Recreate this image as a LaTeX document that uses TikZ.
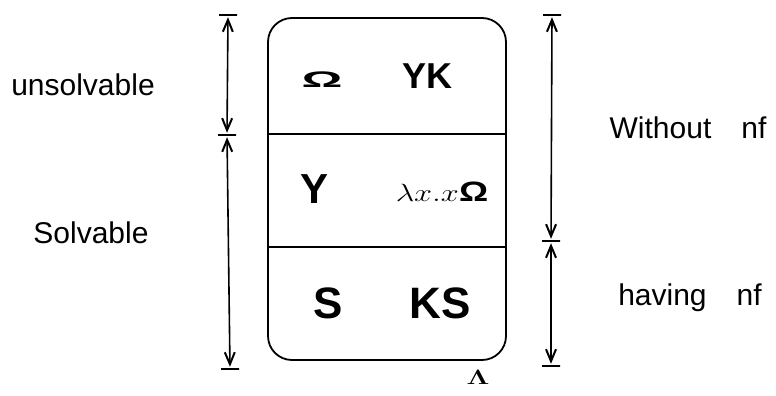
\documentclass[tikz,border=0pt]{standalone}
\usepackage{fontspec}
\setmainfont{Liberation Sans}
\usetikzlibrary{arrows.meta}
\begin{document}
\begin{tikzpicture}[x=1pt,y=-1pt,
  line width=1.5pt,
  tick/.style={draw, line width=2.4pt, minimum width=18pt, minimum height=0pt, inner sep=0pt, outer sep=1.2pt, shape=rectangle},
  dim/.style={{Straight Barb[length=12pt,width=10pt,line width=2pt]}-{Straight Barb[length=12pt,width=10pt,line width=2pt]}, line width=1.6pt, shorten <=1pt, shorten >=1pt},
  lab/.style={font=\fontsize{30}{32}\selectfont},
  big/.style={font=\fontsize{44}{46}\selectfont\bfseries},
  mid/.style={font=\fontsize{42}{44}\selectfont\bfseries},
  ]
\useasboundingbox (0,0) rectangle (776,396);
% box
\node[draw, rounded corners=24pt, line width=1.8pt, minimum width=238pt, minimum height=342pt, inner sep=0pt] (box) at (387,189) {};
\coordinate (d1) at (387,134);
\coordinate (d2) at (387,247);
\draw[line width=1.5pt] (box.west |- d1) -- (box.east |- d1);
\draw[line width=1.5pt] (box.west |- d2) -- (box.east |- d2);
% cells
\node (om) at (322,80) {\scalebox{1.7}[0.75]{\fontsize{30}{32}\selectfont\bfseries Ω}};
\node (yk) at (427,76) {\fontsize{36}{38}\selectfont\bfseries YK};
\node[mid] (y) at (315,189) {Y};
\node (lxo) at (442,192) {\scalebox{1.3}[1]{\fontsize{28}{30}\selectfont $\lambda x.x$\textbf{Ω}}};
\node[big] (s) at (328,303) {S};
\node[big] (ks) at (440,303) {KS};
\node[inner sep=0pt, anchor=base] (lam) at (478,384) {\scalebox{1.4}[1]{\fontsize{22}{22}\selectfont\boldmath$\Lambda$}};
% left dimension ticks
\node[tick] (l0) at (228,15) {};
\node[tick] (l1) at (227,135) {};
\node[tick] (l2) at (230,369) {};
\draw[dim] (l0) -- (l1);
\draw[dim] (l1) -- (l2);
% right dimension ticks
\node[tick] (r0) at (552,15) {};
\node[tick] (r1) at (551,241) {};
\node[tick] (r2) at (551,366) {};
\draw[dim] (r0) -- (r1);
\draw[dim] (r1) -- (r2);
% labels
\node[lab] (unsolv) at (83,85) {unsolvable};
\node[lab] (solv) at (91,233) {Solvable};
\node[lab] (wo) at (688,128) {Without\quad nf};
\node[lab] (hav) at (690,298) {having\quad nf};
\end{tikzpicture}
\end{document}
